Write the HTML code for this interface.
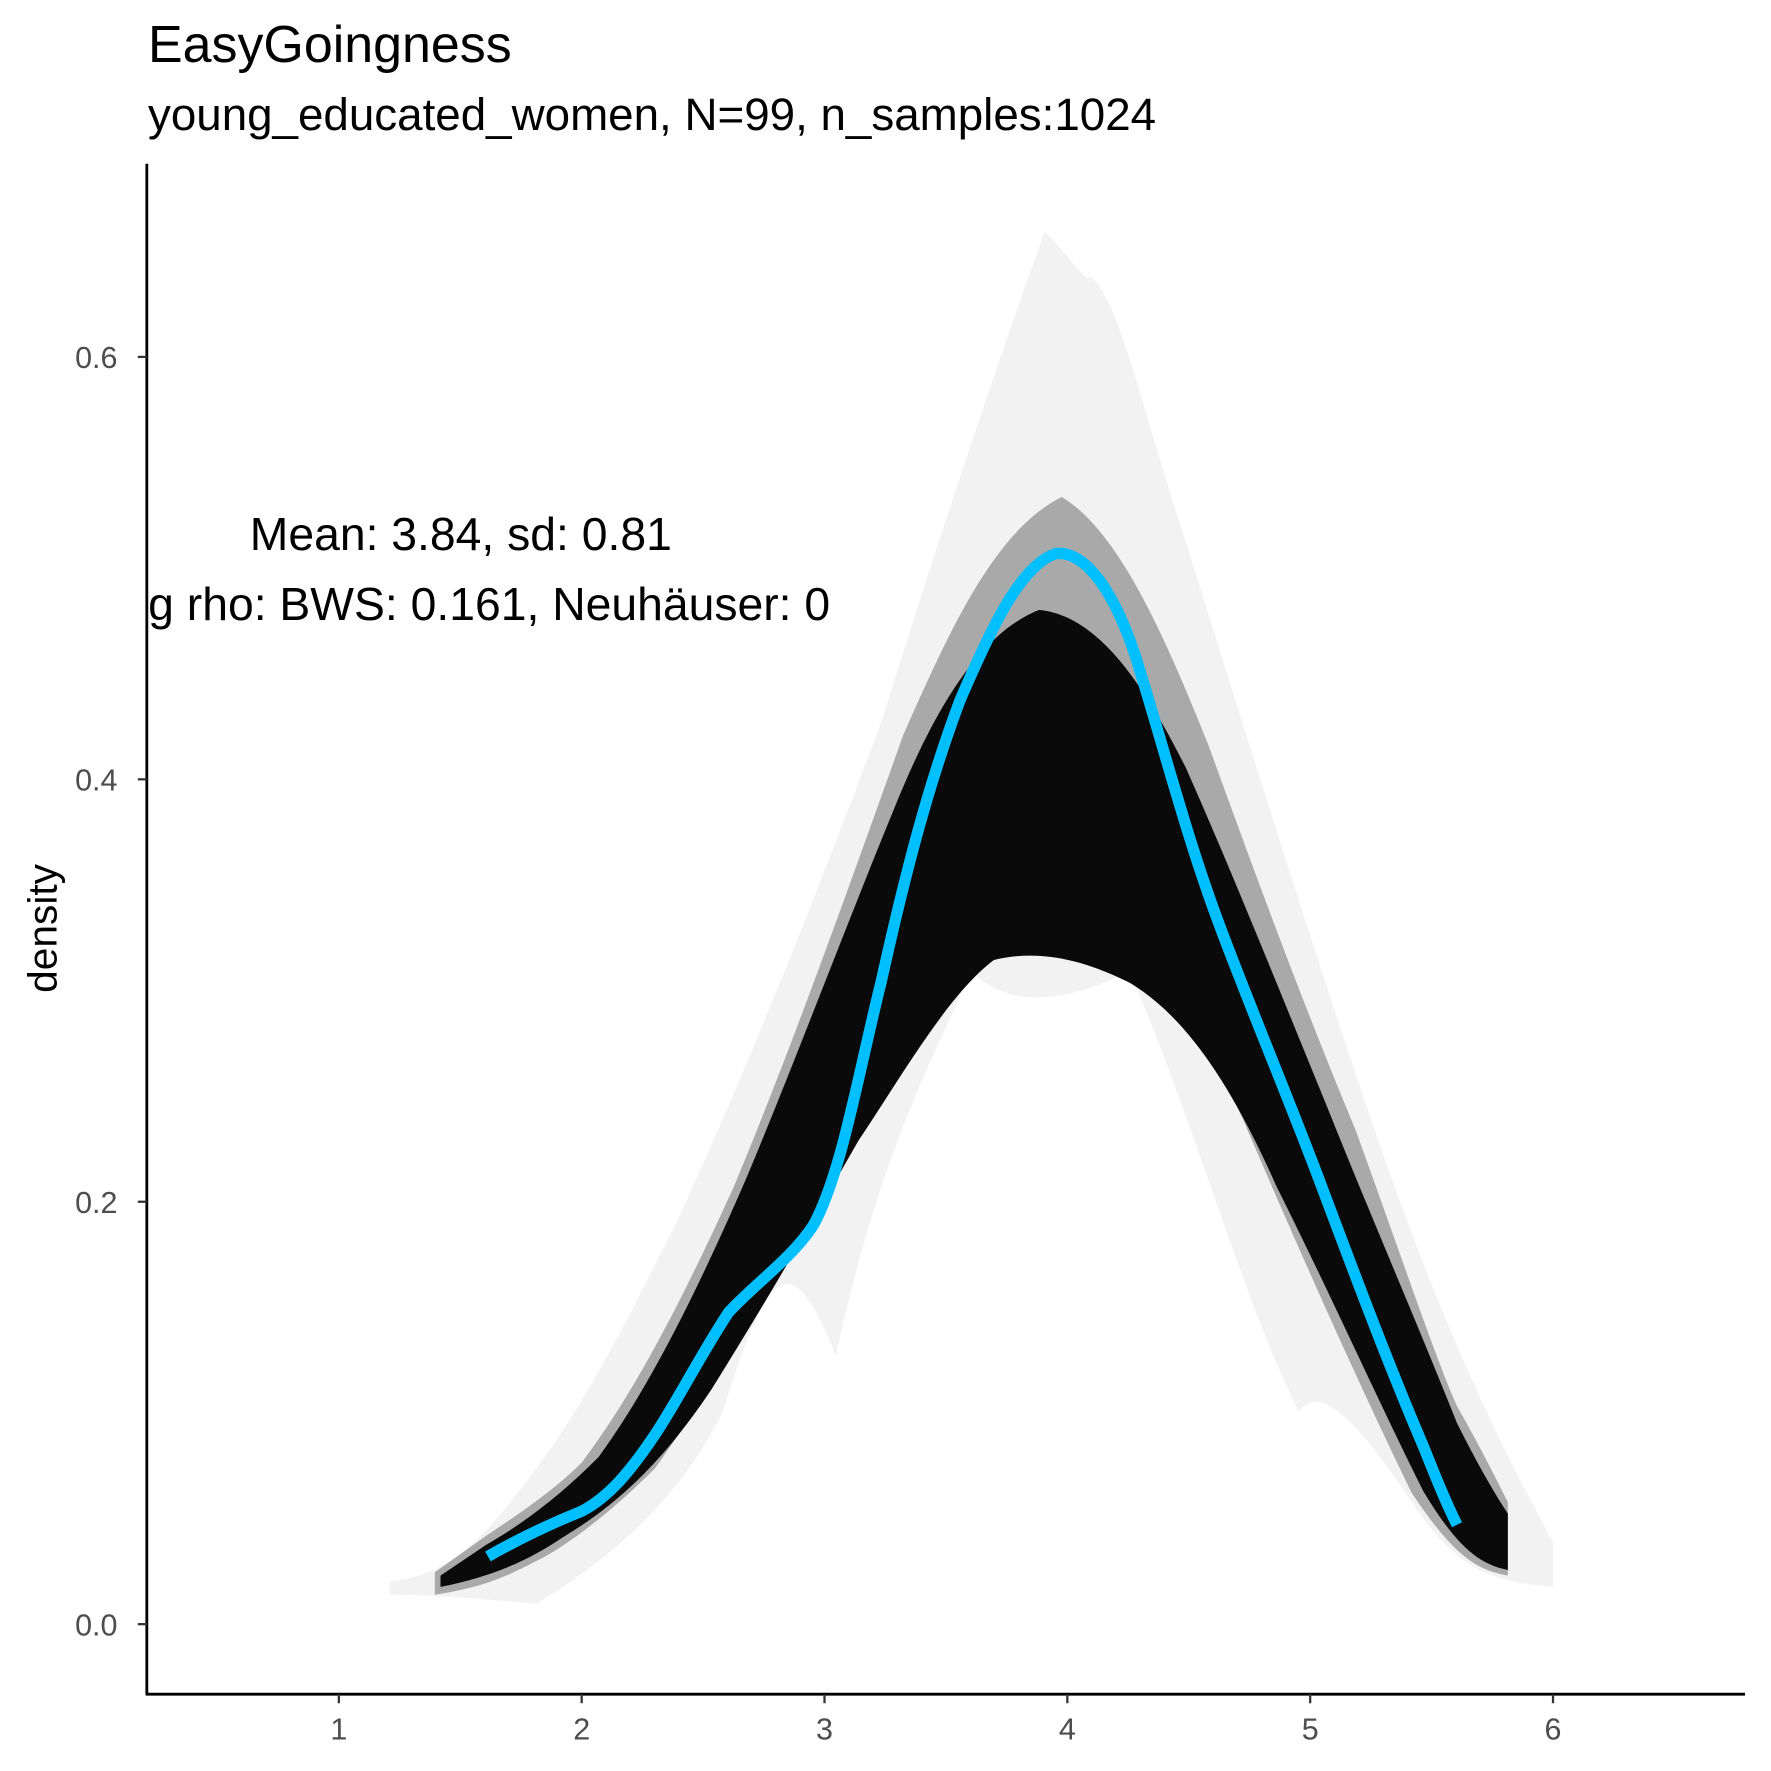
<!DOCTYPE html>
<html><head><meta charset="utf-8"><style>
html,body{margin:0;padding:0;background:#fff}
svg{display:block}
text{font-family:"Liberation Sans",Arial,sans-serif}
</style></head><body>
<svg width="1771" height="1771" viewBox="0 0 1568 1568" xmlns="http://www.w3.org/2000/svg">
<defs><clipPath id="pc"><rect x="131" y="145" width="1414" height="1354"/></clipPath></defs>
<text x="131" y="55" font-size="46" fill="#000">EasyGoingness</text>
<text x="131" y="115" font-size="40.5" fill="#000">young_educated_women, N=99, n_samples:1024</text>
<g clip-path="url(#pc)">
<path d="M345,1400 C400,1395 430,1360 475,1300 C520,1240 560,1160 600,1080 C660,950 720,800 780,640 C830,480 880,330 925,205 C950,230 960,250 965,245 C990,260 1010,360 1050,480 C1100,640 1150,800 1200,950 C1250,1100 1300,1230 1375,1365 L1375,1405 C1320,1400 1290,1390 1250,1330 C1210,1270 1170,1220 1150,1250 C1100,1150 1060,1000 1000,860 C960,880 900,900 860,860 C820,950 780,1020 740,1200 C700,1100 680,1120 640,1250 C600,1330 540,1380 475,1420 C420,1415 380,1412 345,1412 Z" fill="#000" fill-opacity="0.05"/>
<path d="M385,1392 L430,1360 C460,1340 490,1320 515,1295 C560,1235 600,1160 650,1050 C700,930 750,790 800,650 C840,560 880,470 940,440 C990,470 1030,560 1070,660 C1110,770 1150,880 1200,1000 C1240,1110 1270,1200 1290,1245 C1310,1280 1325,1310 1335,1330 L1335,1395 C1310,1390 1290,1382 1250,1322 C1210,1240 1160,1130 1100,990 C1060,900 1010,840 950,810 C900,790 860,805 820,850 C780,930 750,1010 720,1070 C680,1140 630,1230 580,1300 C540,1340 500,1370 475,1382 C450,1395 430,1405 385,1412 Z" fill="#000" fill-opacity="0.3"/>
<path d="M390,1395 L430,1368 C470,1345 500,1320 530,1290 C570,1235 610,1160 660,1045 C700,950 745,830 790,720 C830,620 870,560 920,540 C970,545 1010,600 1050,680 C1090,770 1130,870 1175,980 C1215,1080 1250,1160 1290,1260 C1310,1300 1325,1325 1335,1340 L1335,1390 C1310,1385 1290,1370 1260,1320 C1220,1240 1180,1150 1130,1050 C1090,960 1050,900 1000,870 C960,850 920,840 880,850 C840,880 800,950 760,1010 C720,1080 680,1150 630,1230 C590,1290 550,1330 500,1360 C470,1380 440,1395 390,1405 Z" fill="#0a0a0a"/>
</g>
<path d="M432,1378 C455,1365 480,1352 515,1338 C540,1325 560,1300 580,1270 C600,1240 620,1200 645,1162 C670,1135 700,1115 720,1085 C745,1040 760,950 780,870 C800,780 820,700 850,620 C880,550 905,500 935,490 C960,488 985,520 1005,580 C1030,660 1050,740 1080,820 C1110,900 1140,970 1170,1050 C1200,1130 1230,1210 1260,1280 C1272,1310 1280,1330 1290,1350" fill="none" stroke="#00bfff" stroke-width="10" stroke-linecap="butt"/>
<line x1="130" y1="145" x2="130" y2="1500" stroke="#000" stroke-width="2.5"/>
<line x1="129" y1="1500" x2="1545" y2="1500" stroke="#000" stroke-width="2.5"/>
<g stroke="#333" stroke-width="2">
<line x1="122" y1="1438" x2="130" y2="1438"/><line x1="122" y1="1064" x2="130" y2="1064"/><line x1="122" y1="690" x2="130" y2="690"/><line x1="122" y1="316" x2="130" y2="316"/>
<line x1="300" y1="1500" x2="300" y2="1508"/><line x1="515" y1="1500" x2="515" y2="1508"/><line x1="730" y1="1500" x2="730" y2="1508"/><line x1="945" y1="1500" x2="945" y2="1508"/><line x1="1160" y1="1500" x2="1160" y2="1508"/><line x1="1375" y1="1500" x2="1375" y2="1508"/>
</g>
<g font-size="27" fill="#4d4d4d" text-anchor="end">
<text x="104" y="1448">0.0</text><text x="104" y="1074">0.2</text><text x="104" y="700">0.4</text><text x="104" y="326">0.6</text>
</g>
<g font-size="27" fill="#4d4d4d" text-anchor="middle">
<text x="300" y="1540">1</text><text x="515" y="1540">2</text><text x="730" y="1540">3</text><text x="945" y="1540">4</text><text x="1160" y="1540">5</text><text x="1375" y="1540">6</text>
</g>
<text transform="translate(50,822) rotate(-90)" font-size="36" text-anchor="middle" fill="#000">density</text>
<g clip-path="url(#pc)" font-size="41" fill="#000">
<text x="408" y="487" text-anchor="middle">Mean: 3.84, sd: 0.81</text>
<text x="735" y="549" text-anchor="end">Bimodality using rho: BWS: 0.161, Neuhäuser: 0</text>
</g>
</svg>
</body></html>
